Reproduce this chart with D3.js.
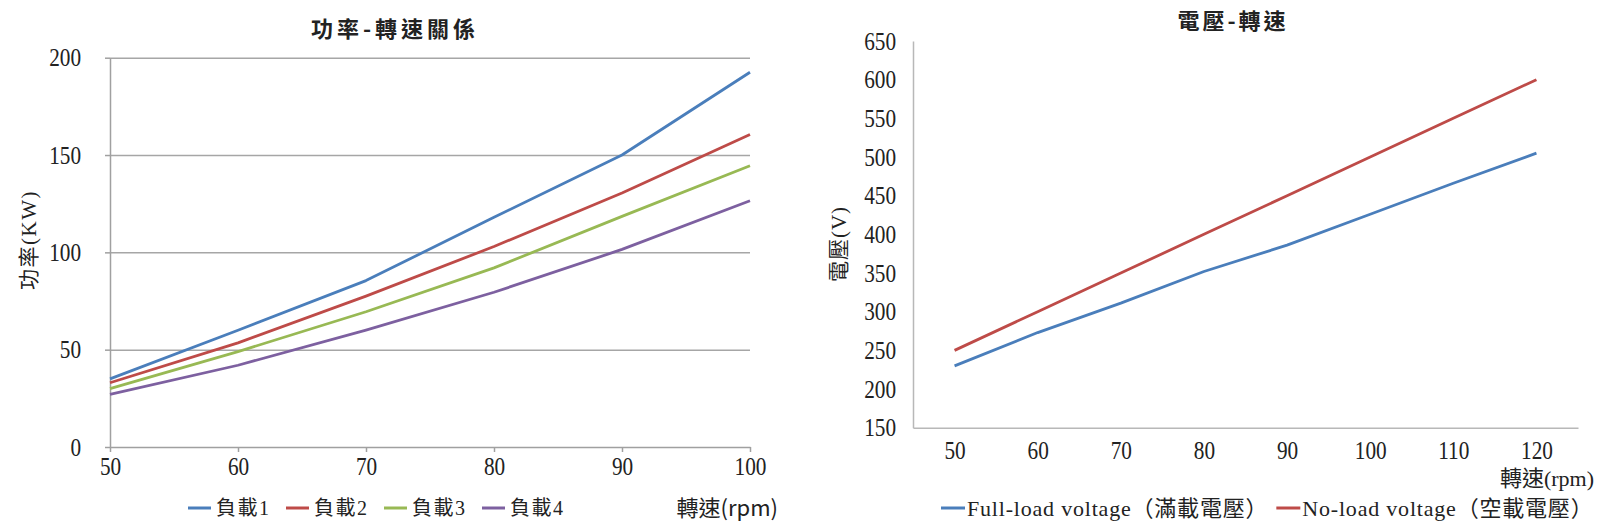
<meta charset="utf-8" />
<style>
	body { margin: 0; background: #fff; }
	text { fill: #222; }
</style>
<svg width="1600" height="528"></svg>
<script src="https://cdn.jsdelivr.net/npm/d3@7"></script>
<script>
	// left chart: power vs speed
	var speedL = [50, 60, 70, 80, 90, 100];
	var load1 = [35, 60, 85.5, 118, 150, 192.5];
	var load2 = [33, 53.5, 77.5, 103, 130.5, 160.5];
	var load3 = [30, 49, 69.5, 92, 118.5, 144.5];
	var load4 = [27, 42, 60, 79.5, 101.5, 126.5];
	var loadNames = ['負載1', '負載2', '負載3', '負載4'];
	var powerTicks = [0, 50, 100, 150, 200];

	// right chart: voltage vs speed
	var speedR = ['50', '60', '70', '80', '90', '100', '110', '120'];
	var fullLoad = [230, 273, 311, 352, 386, 426, 466, 505];
	var noLoad = [250, 300, 350, 400, 450, 500, 550, 600];
	var voltNames = ['Full-load voltage（滿載電壓）', 'No-load voltage（空載電壓）'];
	var voltTicks = [150, 200, 250, 300, 350, 400, 450, 500, 550, 600, 650];

	var loadColors = ['#4a7ebb', '#be4b48', '#98b954', '#7d60a0'],
		voltColors = ['#4a7ebb', '#be4b48'];

	var numFont = '"Liberation Serif", "Noto Sans CJK TC", serif',
		cjkFont = '"Noto Sans CJK TC", sans-serif';

	var svg = d3.select('svg');

	// squeeze digits a bit, the original uses a narrow serif
	function condense(sel, k) {
		sel.each(function () {
			var t = d3.select(this),
				x = +t.attr('x') || 0;
			t.attr('x', x / k).attr('transform', 'scale(' + k + ',1)');
		});
	}

	// ---------- left ----------
	var xL = d3.scaleLinear().domain([50, 100]).range([110, 750]),
		yL = d3.scaleLinear().domain([0, 200]).range([447, 57.7]);

	var left = svg.append('g');

	left.append('g')
		.attr('transform', 'translate(110,0)')
		.call(d3.axisLeft(yL).tickValues(powerTicks.slice(1)).tickSize(-640).tickFormat(''))
		.call(g => g.select('.domain').remove())
		.call(g => g.selectAll('line').attr('stroke', '#a6a6a6').attr('stroke-width', 1.5));

	left.append('g')
		.attr('transform', 'translate(110,0)')
		.call(d3.axisLeft(yL).tickValues(powerTicks).tickSize(5).tickSizeOuter(0).tickPadding(24))
		.call(g => g.selectAll('path,line').attr('stroke', '#a0a0a0').attr('stroke-width', 1.5))
		.call(g => g.selectAll('text')
			.style('font-family', numFont).attr('font-size', 25).attr('fill', '#222')
			.call(condense, 0.85));

	left.append('g')
		.attr('transform', 'translate(0,447)')
		.call(d3.axisBottom(xL).tickValues(speedL).tickSize(5).tickSizeOuter(0))
		.call(g => g.selectAll('path,line').attr('stroke', '#a0a0a0').attr('stroke-width', 1.5))
		.call(g => g.selectAll('text')
			.style('font-family', numFont).attr('font-size', 25).attr('fill', '#222')
			.attr('y', 28).attr('dy', 0)
			.call(condense, 0.85));

	var lineL = d3.line().x((d, i) => xL(speedL[i])).y(d => yL(d));

	left.selectAll('.load')
		.data([load1, load2, load3, load4])
		.join('path')
		.attr('class', 'load')
		.attr('fill', 'none')
		.attr('stroke', (d, i) => loadColors[i])
		.attr('stroke-width', 2.8)
		.attr('stroke-linejoin', 'round')
		.attr('d', lineL);

	left.append('text')
		.attr('x', 395).attr('y', 37)
		.attr('text-anchor', 'middle')
		.attr('font-family', cjkFont).attr('font-size', 22).attr('font-weight', 'bold')
		.attr('letter-spacing', 4)
		.text('功率-轉速關係');

	left.append('text')
		.attr('transform', 'translate(36,240) rotate(-90)')
		.attr('text-anchor', 'middle')
		.attr('font-family', numFont).attr('font-size', 21)
		.attr('letter-spacing', 1.5)
		.text('功率(KW)');

	var legL = left.selectAll('.legL')
		.data(loadNames)
		.join('g')
		.attr('class', 'legL')
		.attr('transform', (d, i) => 'translate(' + (188 + i * 98) + ',508)');
	legL.append('line')
		.attr('x2', 23)
		.attr('stroke', (d, i) => loadColors[i])
		.attr('stroke-width', 3);
	legL.append('text')
		.attr('x', 28).attr('dy', '0.35em')
		.attr('font-family', numFont).attr('font-size', 20)
		.attr('letter-spacing', 1.5)
		.text(d => d);

	left.append('text')
		.attr('x', 778).attr('y', 508).attr('dy', '0.35em')
		.attr('text-anchor', 'end')
		.attr('font-family', cjkFont).attr('font-size', 22)
		.text('轉速(rpm)');

	// ---------- right ----------
	var xR = d3.scalePoint().domain(speedR).range([913, 1578]).padding(0.5),
		yR = d3.scaleLinear().domain([150, 650]).range([427.7, 41]);

	var right = svg.append('g');

	right.append('g')
		.attr('transform', 'translate(913,0)')
		.call(d3.axisLeft(yR).tickValues(voltTicks).tickSize(0).tickPadding(17))
		.call(g => g.select('.domain').attr('stroke', '#b8b8b8').attr('stroke-width', 1.5))
		.call(g => g.selectAll('text')
			.style('font-family', numFont).attr('font-size', 25).attr('fill', '#222')
			.call(condense, 0.85));

	right.append('g')
		.attr('transform', 'translate(0,427.7)')
		.call(d3.axisBottom(xR).tickSize(0))
		.call(g => g.select('.domain').attr('stroke', '#b8b8b8').attr('stroke-width', 1.5))
		.call(g => g.selectAll('text')
			.style('font-family', numFont).attr('font-size', 25).attr('fill', '#222')
			.attr('y', 31).attr('dy', 0)
			.call(condense, 0.85));

	var lineR = d3.line().x((d, i) => xR(speedR[i])).y(d => yR(d));

	right.selectAll('.volt')
		.data([fullLoad, noLoad])
		.join('path')
		.attr('class', 'volt')
		.attr('fill', 'none')
		.attr('stroke', (d, i) => voltColors[i])
		.attr('stroke-width', 2.8)
		.attr('stroke-linejoin', 'round')
		.attr('d', lineR);

	right.append('text')
		.attr('x', 1233).attr('y', 29)
		.attr('text-anchor', 'middle')
		.attr('font-family', cjkFont).attr('font-size', 22).attr('font-weight', 'bold')
		.attr('letter-spacing', 3)
		.text('電壓-轉速');

	right.append('text')
		.attr('transform', 'translate(846,244) rotate(-90)')
		.attr('text-anchor', 'middle')
		.attr('font-family', numFont).attr('font-size', 21)
		.attr('letter-spacing', 1)
		.text('電壓(V)');

	right.append('text')
		.attr('x', 1594).attr('y', 478).attr('dy', '0.35em')
		.attr('text-anchor', 'end')
		.attr('font-family', numFont).attr('font-size', 22)
		.text('轉速(rpm)');

	var legX = 941;
	voltNames.forEach(function (name, i) {
		var g = right.append('g').attr('transform', 'translate(' + legX + ',508)');
		g.append('line').attr('x2', 24).attr('stroke', voltColors[i]).attr('stroke-width', 3);
		var t = g.append('text')
			.attr('x', 26).attr('dy', '0.35em')
			.attr('font-family', numFont).attr('font-size', 22)
			.attr('letter-spacing', 0.8)
			.text(name);
		legX += 26 + t.node().getComputedTextLength() + 8;
	});
</script>
